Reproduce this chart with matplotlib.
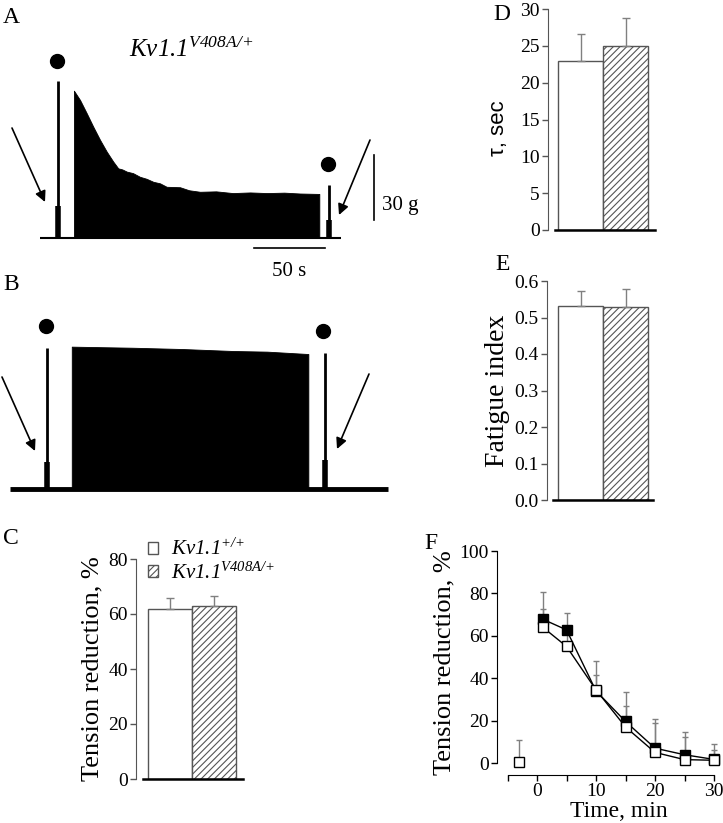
import matplotlib
matplotlib.use('Agg')
from matplotlib import pyplot as plt
from matplotlib.patches import Patch

plt.rcParams['font.family'] = 'Liberation Serif'
plt.rcParams['mathtext.fontset'] = 'custom'
plt.rcParams['mathtext.rm'] = 'Liberation Serif:italic'
plt.rcParams['mathtext.it'] = 'Liberation Serif:italic'
plt.rcParams['hatch.linewidth'] = 0.8

# panel A trace (time in s, force in g)
a_trace_end = 212
a_spikes_t = [12.7, 203.7]
a_spikes_peak = [72.3, 24.4]
a_spikes_base = [14.7, 8.3]
a_dots_t = [11.8, 202.8]
a_dots_g = [81.6, 34.1]
a_block_t = [23.9, 28.2, 32.9, 37.5, 42.3, 47.0, 51.6, 55.1, 58.0, 61.1, 65.5, 70.4, 75.0,
             79.8, 84.5, 89.2, 98.6, 105.0, 112.7, 124.0, 135.9, 148.0, 159.9, 172.0,
             183.1, 196.7]
a_block_g = [67.9, 63.6, 57.5, 51.3, 45.2, 39.8, 35.2, 32.1, 31.6, 30.6, 29.9, 28.2, 27.3,
             25.9, 25.2, 23.6, 23.4, 22.0, 21.3, 21.5, 20.7, 21.0, 20.7, 20.9,
             20.5, 20.3]

# panel B trace
b_trace_end = 266
b_spikes_t = [25.8, 221.8]
b_spikes_peak = [64.8, 62.8]
b_spikes_base = [12.6, 13.4]
b_dots_t = [25.4, 220.6]
b_dots_g = [75.1, 72.9]
b_block_t = [43.5, 86.6, 121.8, 157.0, 181.0, 210.1]
b_block_g = [65.6, 65.1, 64.5, 63.6, 63.3, 62.2]

# bar panels: wild type, V408A/+
c_vals = [62, 63]
c_errs = [4, 3.6]
d_vals = [23.0, 25.0]
d_errs = [3.6, 3.75]
e_vals = [0.532, 0.528]
e_errs = [0.041, 0.049]

# panel F
f_time_wt = [-3, 1, 5, 10, 15, 20, 25, 30]
f_wt = [0.5, 64, 55, 34.5, 17, 5, 1.6, 1.3]
f_wt_err = [10.5, 8.5, 6, 6.8, 9.7, 13.8, 10.6, 5]
f_time_mut = [1, 5, 10, 15, 20, 25, 30]
f_mut = [67.8, 62.8, 34, 19.6, 7, 3.9, 1.7]
f_mut_err = [13, 7.8, 14.3, 13.8, 13.7, 10.8, 7.1]

W, H = 723, 823
fig = plt.figure(figsize=(W / 100, H / 100), dpi=100)


def px_axes(left, top, right, bottom):
    return fig.add_axes([left / W, 1 - bottom / H, (right - left) / W, (bottom - top) / H])


def draw_trace(ax, end, spikes_t, peaks, bases, dots_t, dots_g, block_t, block_g, base_lw):
    ax.plot([0, end], [0, 0], color='k', lw=base_lw, solid_capstyle='butt')
    ax.fill_between(block_t, 0, block_g, color='k', lw=0.6)
    ax.vlines(spikes_t, 0, peaks, color='k', lw=2)
    ax.vlines(spikes_t, 0, bases, color='k', lw=4)
    ax.plot(dots_t, dots_g, 'o', color='k', ms=10)
    ax.axis('off')


px_s, px_g = 1.42, 2.17
# A: t=0 at x=40 px, baseline at y=238 px
ax_a = px_axes(0, 30, 400, 280)
ax_a.set_xlim(-40 / px_s, 360 / px_s)
ax_a.set_ylim(-42 / px_g, 208 / px_g)
draw_trace(ax_a, a_trace_end, a_spikes_t, a_spikes_peak, a_spikes_base,
           a_dots_t, a_dots_g, a_block_t, a_block_g, 1.5)
ax_a.plot([235.2, 235.2], [8.3, 8.3 + 30], color='k', lw=1.2)
ax_a.plot([150.7, 150.7 + 50], [-4.6, -4.6], color='k', lw=1.2)
ax_a.text(240.5, 15, '30 g', fontsize=15, va='center', ha='left')
ax_a.text(175.7, -11, '50 s', fontsize=15, va='top', ha='center')
ax_a.text(106.3, 86.6, r'$Kv1.1^{V408A/{+}}$', fontsize=18, ha='center', va='center')

# B: t=0 at x=10 px, baseline at y=489 px
ax_b = px_axes(0, 300, 400, 510)
ax_b.set_xlim(-10 / px_s, 390 / px_s)
ax_b.set_ylim(-21 / px_g, 189 / px_g)
draw_trace(ax_b, b_trace_end, b_spikes_t, b_spikes_peak, b_spikes_base,
           b_dots_t, b_dots_g, b_block_t, b_block_g, 3.5)

arrow = dict(arrowstyle='-|>', lw=1.2, color='k', mutation_scale=16, shrinkA=0, shrinkB=0)
for (x0, y0), (x1, y1) in [((12, 128), (45, 202)), ((370, 140), (339, 215)),
                           ((2, 377), (35, 451)), ((369, 374), (337, 449))]:
    fig.add_artist(plt.Annotation('', xy=(x1, H - y1), xytext=(x0, H - y0),
                                  xycoords='figure pixels', arrowprops=arrow))

edge = '#555555'
err_c = '#808080'


def bar_panel(ax, vals, errs, ymax, yticks, x0, x1):
    ax.bar(1, vals[0], width=1, color='white', edgecolor=edge, lw=1)
    ax.bar(2, vals[1], width=1, color='white', edgecolor=edge, lw=1, hatch='/////')
    ax.errorbar([1, 2], vals, yerr=[[0, 0], errs], fmt='none', ecolor=err_c,
                elinewidth=1, capsize=3, capthick=1)
    ax.set_ylim(0, ymax)
    ax.set_yticks(yticks)
    ax.set_xticks([])
    for s in ['top', 'right']:
        ax.spines[s].set_visible(False)
    ax.spines['left'].set_color('#555555')
    ax.spines['left'].set_bounds(0, ymax)
    ax.spines['bottom'].set_linewidth(1.8)
    ax.spines['bottom'].set_bounds(x0, x1)
    ax.tick_params(axis='y', direction='out', length=4.5, width=1, color='#555555',
                   labelsize=14, pad=1.5)


ax_c = px_axes(136, 559, 243, 779)
ax_c.set_xlim(0.5 - 12 / 44, 0.5 + 95 / 44)
bar_panel(ax_c, c_vals, c_errs, 80, [0, 20, 40, 60, 80], 0.5 - 5 / 44, 0.5 + 95 / 44)
ax_c.set_ylabel('Tension reduction, %', fontsize=19, labelpad=3)
handles = [Patch(facecolor='white', edgecolor=edge),
           Patch(facecolor='white', edgecolor=edge, hatch='/////')]
ax_c.legend(handles, [r'$Kv1.1^{{+}/{+}}$', r'$Kv1.1^{V408A/{+}}$'], loc='upper left',
            bbox_to_anchor=(148 / W, 1 - 539 / H), bbox_transform=fig.transFigure,
            frameon=False, fontsize=15, handlelength=0.5, handleheight=0.55,
            handletextpad=0.6, labelspacing=0.1, borderpad=0, borderaxespad=0)

ax_d = px_axes(548, 9, 655, 230)
ax_d.set_xlim(0.5 - 10 / 45, 0.5 + 97 / 45)
bar_panel(ax_d, d_vals, d_errs, 30, [0, 5, 10, 15, 20, 25, 30], 0.5 - 3 / 45, 0.5 + 97 / 45)
ax_d.set_ylabel('τ, sec', fontsize=16, family='Liberation Sans', labelpad=6)
ax_d.yaxis.set_label_coords(-0.36, 0.46)

ax_e = px_axes(547, 281, 653, 500)
ax_e.set_xlim(0.5 - 11 / 45, 0.5 + 95 / 45)
bar_panel(ax_e, e_vals, e_errs, 0.6, [0, 0.1, 0.2, 0.3, 0.4, 0.5, 0.6], 0.5 - 5 / 45, 0.5 + 95 / 45)
ax_e.set_yticklabels(['0.0', '0.1', '0.2', '0.3', '0.4', '0.5', '0.6'])
ax_e.set_ylabel('Fatigue index', fontsize=20, labelpad=3)

# F
ax_f = px_axes(497, 551, 714, 775)
ax_f.errorbar(f_time_mut, f_mut, yerr=[[0] * len(f_mut), f_mut_err], fmt='none',
              ecolor=err_c, elinewidth=1, capsize=2.5, capthick=1, clip_on=False)
ax_f.errorbar(f_time_wt, f_wt, yerr=[[0] * len(f_wt), f_wt_err], fmt='none',
              ecolor=err_c, elinewidth=1, capsize=2.5, capthick=1, clip_on=False)
ax_f.plot(f_time_mut, f_mut, '-s', color='k', mfc='k', ms=6.5, mew=1, lw=1, clip_on=False)
ax_f.plot(f_time_wt[1:], f_wt[1:], '-', color='k', lw=1, clip_on=False)
ax_f.plot(f_time_wt, f_wt, 's', color='k', mfc='white', ms=6.5, mew=1, clip_on=False)
ax_f.set_xlim(-5 - 10.5 / 5.9, 30)
ax_f.set_ylim(-12 / 2.123, 100)
for s in ['top', 'right']:
    ax_f.spines[s].set_visible(False)
ax_f.spines['left'].set_bounds(0, 100)
ax_f.spines['bottom'].set_bounds(-5, 30)
ax_f.set_yticks([0, 20, 40, 60, 80, 100])
ax_f.set_xticks([-5, 0, 5, 10, 15, 20, 25, 30])
ax_f.set_xticklabels(['', '0', '', '10', '', '20', '', '30'])
ax_f.tick_params(direction='out', length=4.5, width=1, labelsize=14, pad=1.5)
ax_f.set_ylabel('Tension reduction, %', fontsize=19, labelpad=3)
ax_f.set_xlabel('Time, min', fontsize=17)
ax_f.xaxis.set_label_coords(0.56, -0.118)

for lab, x, y in [('A', 3, 7), ('B', 3, 274), ('C', 3, 528), ('D', 493, 4),
                  ('E', 495, 254), ('F', 424, 533)]:
    fig.text(x / W, 1 - y / H, lab, fontsize=17, ha='left', va='top')

fig.savefig('out.png', dpi=100)
